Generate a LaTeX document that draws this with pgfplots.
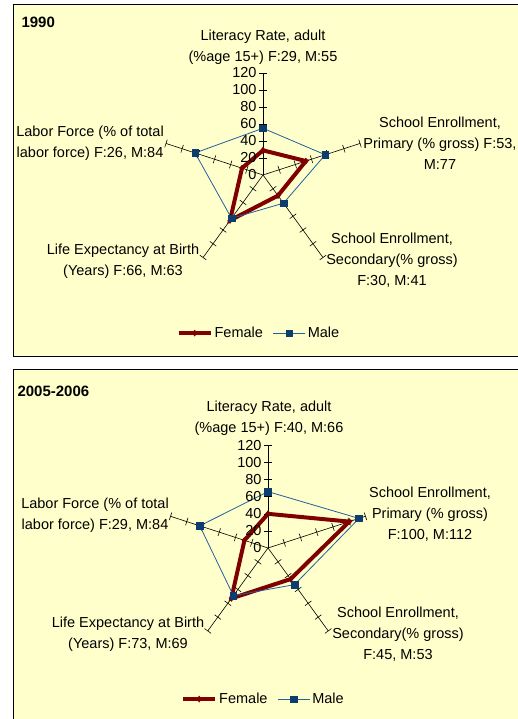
\documentclass[border=0pt]{standalone}
\usepackage{pgfplots}
\pgfplotsset{compat=1.18}
\usepgfplotslibrary{polar}
\usepackage{fontspec}
\setmainfont{Liberation Sans}

\definecolor{bg}{HTML}{FFFFCC}
\definecolor{fem}{HTML}{800000}
\definecolor{maleline}{HTML}{23609E}
\definecolor{malemark}{HTML}{0D3C6E}

\newcommand{\lab}{\fontsize{14.5}{21}\selectfont}

\pgfplotsset{
  spoke/.style={black, line width=0.6pt, forget plot},
  tickm/.style={black, line width=0.6pt, only marks, mark=|, mark size=4pt,
    mark options={rotate=#1, solid}, forget plot},
  radar/.style={anchor=origin, scale only axis, width=204pt, height=204pt,
    ymin=0, ymax=120, hide axis, clip=false,
    legend columns=2,
    legend style={anchor=center, draw=none, fill=none, font=\lab,
      /tikz/every even column/.append style={column sep=8pt}},
    legend image code/.code={
      \draw[mark repeat=2, mark phase=2]
        plot coordinates {(0pt,0pt) (16pt,0pt) (32pt,0pt)};}},
  female/.style={fem, line width=4pt, mark=diamond*, mark size=3pt,
    mark options={fem, line width=0.5pt}},
  male/.style={maleline, line width=0.8pt, mark=square*, mark size=3.3pt,
    mark options={malemark, fill=malemark, line width=0.5pt}},
  vlabels/.style={only marks, mark=none, forget plot, nodes near coords,
    point meta=explicit symbolic,
    every node near coord/.style={anchor=east, font=\lab, xshift=-3pt, black}},
}

\newcommand{\spokes}{%
  \addplot[spoke] coordinates {(90,0) (90,120)};
  \addplot[spoke] coordinates {(18,0) (18,120)};
  \addplot[spoke] coordinates {(-54,0) (-54,120)};
  \addplot[spoke] coordinates {(-126,0) (-126,120)};
  \addplot[spoke] coordinates {(162,0) (162,120)};
  \addplot[tickm=90] coordinates {(90,20) (90,40) (90,60) (90,80) (90,100) (90,120)};
  \addplot[tickm=18] coordinates {(18,20) (18,40) (18,60) (18,80) (18,100) (18,120)};
  \addplot[tickm=-54] coordinates {(-54,20) (-54,40) (-54,60) (-54,80) (-54,100) (-54,120)};
  \addplot[tickm=-126] coordinates {(-126,20) (-126,40) (-126,60) (-126,80) (-126,100) (-126,120)};
  \addplot[tickm=162] coordinates {(162,20) (162,40) (162,60) (162,80) (162,100) (162,120)};
  \addplot[vlabels] coordinates {(90,0)[0] (90,20)[20] (90,40)[40] (90,60)[60]
    (90,80)[80] (90,100)[100] (90,120)[120]};
}

\begin{document}
\begin{tikzpicture}[x=1pt, y=1pt]
\clip (0,0) rectangle (518,719);
\fill[white] (0,0) rectangle (518,719);

% panel 1990
\draw[fill=bg, line width=1pt] (13.5,362.5) rectangle (530,714);
\node[anchor=west, font=\fontsize{15}{18}\selectfont\bfseries] at (18,697) {1990};

\begin{polaraxis}[radar, at={(263pt,544pt)},
    legend style={at={(0.48,-0.275)}}]
\spokes
\addplot[female] coordinates {(90,29) (18,53) (-54,30) (-126,66) (162,26) (90,29)};
\addlegendentry{Female}
\addplot[male] coordinates {(90,55) (18,77) (-54,41) (-126,63) (162,84) (90,55)};
\addlegendentry{Male}
\end{polaraxis}

\node[font=\lab, align=center] at (263,671.5) {Literacy Rate, adult\\(\%age 15+) F:29, M:55};
\node[font=\lab, align=center] at (440,576) {School Enrollment,\\Primary (\% gross) F:53,\\M:77};
\node[font=\lab, align=center] at (392,459) {School Enrollment,\\Secondary(\% gross)\\F:30, M:41};
\node[font=\lab, align=center] at (123,458) {Life Expectancy at Birth\\(Years) F:66, M:63};
\node[font=\lab, align=center] at (90,575.5) {Labor Force (\% of total\\labor force) F:26, M:84};

% panel 2005-2006
\draw[fill=bg, line width=1pt] (13.5,-10) rectangle (530,349.5);
\node[anchor=west, font=\fontsize{15}{18}\selectfont\bfseries] at (14,328) {2005-2006};

\begin{polaraxis}[radar, at={(268pt,171pt)}, width=205pt, height=205pt,
    legend style={at={(0.478,-0.237)}}]
\spokes
\addplot[female] coordinates {(90,40) (18,100) (-54,45) (-126,73) (162,29) (90,40)};
\addlegendentry{Female}
\addplot[male] coordinates {(90,66) (18,112) (-54,53) (-126,69) (162,84) (90,66)};
\addlegendentry{Male}
\end{polaraxis}

\node[font=\lab, align=center] at (269,300.5) {Literacy Rate, adult\\(\%age 15+) F:40, M:66};
\node[font=\lab, align=center] at (430,205) {School Enrollment,\\Primary (\% gross)\\F:100, M:112};
\node[font=\lab, align=center] at (398,84.5) {School Enrollment,\\Secondary(\% gross)\\F:45, M:53};
\node[font=\lab, align=center] at (128,85) {Life Expectancy at Birth\\(Years) F:73, M:69};
\node[font=\lab, align=center] at (95,204) {Labor Force (\% of total\\labor force) F:29, M:84};
\end{tikzpicture}
\end{document}
